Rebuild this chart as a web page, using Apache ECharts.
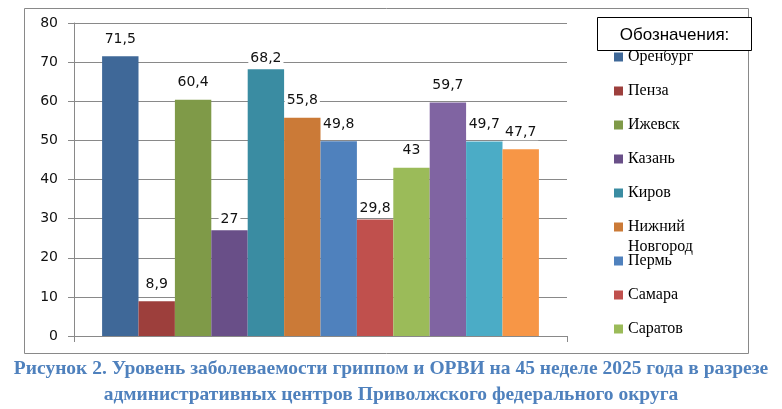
<!DOCTYPE html>
<html>
<head>
<meta charset="utf-8">
<script src="https://cdn.jsdelivr.net/npm/echarts@6/dist/echarts.min.js"></script>
<style>
  html, body { margin: 0; padding: 0; background: #fff; }
  #chart { width: 782px; height: 409px; }
</style>
</head>
<body>
<div id="chart"></div>
<script>
// ---- data ----
const cities = ['Оренбург', 'Пенза', 'Ижевск', 'Казань', 'Киров', 'Нижний Новгород',
                'Пермь', 'Самара', 'Саратов', 'Ульяновск', 'Уфа', 'Чебоксары'];
const values = [71.5, 8.9, 60.4, 27, 68.2, 55.8, 49.8, 29.8, 43, 59.7, 49.7, 47.7];
const legendShown = ['Оренбург', 'Пенза', 'Ижевск', 'Казань', 'Киров', 'Нижний Новгород',
                     'Пермь', 'Самара', 'Саратов'];
const yTicks = { min: 0, max: 80, interval: 10 };
const titleLines = ['Рисунок 2. Уровень заболеваемости гриппом и ОРВИ на 45 неделе 2025 года в разрезе',
                    'административных центров Приволжского федерального округа'];
const legendTitle = 'Обозначения:';

// ---- styles ----
const colors = ['#3F6898', '#9D3F3C', '#7F9A48', '#694F88', '#3A8CA2', '#CB7A37',
                '#4F81BD', '#C0504D', '#9BBB59', '#8064A2', '#4BACC6', '#F79646'];
const tightLabel = new Set(['Казань', 'Киров', 'Самара']);
const numFont = 'DejaVu Sans';
const gray = '#898989';

const chart = echarts.init(document.getElementById('chart'), null, { renderer: 'canvas' });

const series = cities.map((name, i) => ({
  name: name,
  type: 'bar',
  data: [values[i]],
  barGap: '0%',
  barCategoryGap: '11.4%',
  itemStyle: { color: colors[i] },
  label: {
    show: true,
    position: 'top',
    distance: tightLabel.has(name) ? 3 : 9,
    formatter: p => String(p.value).replace('.', ','),
    fontFamily: numFont,
    fontSize: 14,
    color: '#111',
    backgroundColor: '#fff',
    padding: [1, 2]
  }
}));

chart.setOption({
  animation: false,
  color: colors,
  title: {
    text: titleLines.join('\n'),
    left: 'center',
    top: 356,
    textStyle: {
      fontFamily: 'Liberation Serif',
      fontWeight: 'bold',
      fontSize: 19.5,
      lineHeight: 26,
      color: '#4F81BD'
    },
    padding: 0
  },
  grid: { left: 74, right: 215, top: 23, bottom: 73, containLabel: false },
  xAxis: {
    type: 'category',
    data: [''],
    axisLine: { lineStyle: { color: gray } },
    axisTick: { show: true, length: 6, lineStyle: { color: gray } },
    axisLabel: { show: false }
  },
  yAxis: {
    type: 'value',
    min: yTicks.min,
    max: yTicks.max,
    interval: yTicks.interval,
    axisLine: { show: true, lineStyle: { color: gray } },
    axisTick: { show: true, length: 6, lineStyle: { color: gray } },
    splitLine: { show: true, lineStyle: { color: gray } },
    axisLabel: { fontFamily: numFont, fontSize: 14, color: '#111', margin: 16 }
  },
  legend: {
    orient: 'vertical',
    left: 614,
    top: 49,
    padding: 0,
    itemWidth: 9,
    itemHeight: 9,
    itemGap: 18,
    icon: 'rect',
    selectedMode: false,
    data: legendShown,
    formatter: n => n === 'Нижний Новгород' ? 'Нижний' : n,
    textStyle: { fontFamily: 'Liberation Serif', fontSize: 16, lineHeight: 16, color: '#000' },
    z: 10
  },
  graphic: [
    { type: 'rect', z: -10, silent: true,
      shape: { x: 24.5, y: 8.5, width: 724, height: 345 },
      style: { fill: 'none', stroke: gray, lineWidth: 1 } },
    { type: 'rect', z: 20, silent: true,
      shape: { x: 597.5, y: 17.5, width: 154, height: 33 },
      style: { fill: '#fff', stroke: '#000', lineWidth: 1 } },
    { type: 'text', z: 21, silent: true, x: 674.5, y: 35,
      style: { text: legendTitle, fontFamily: 'Liberation Sans', fontSize: 17,
               fill: '#000', align: 'center', verticalAlign: 'middle' } },
    { type: 'text', z: 21, silent: true, x: 628, y: 247,
      style: { text: 'Новгород', fontFamily: 'Liberation Serif', fontSize: 16,
               fill: '#000', align: 'left', verticalAlign: 'middle' } }
  ],
  series: series
});
</script>
</body>
</html>
